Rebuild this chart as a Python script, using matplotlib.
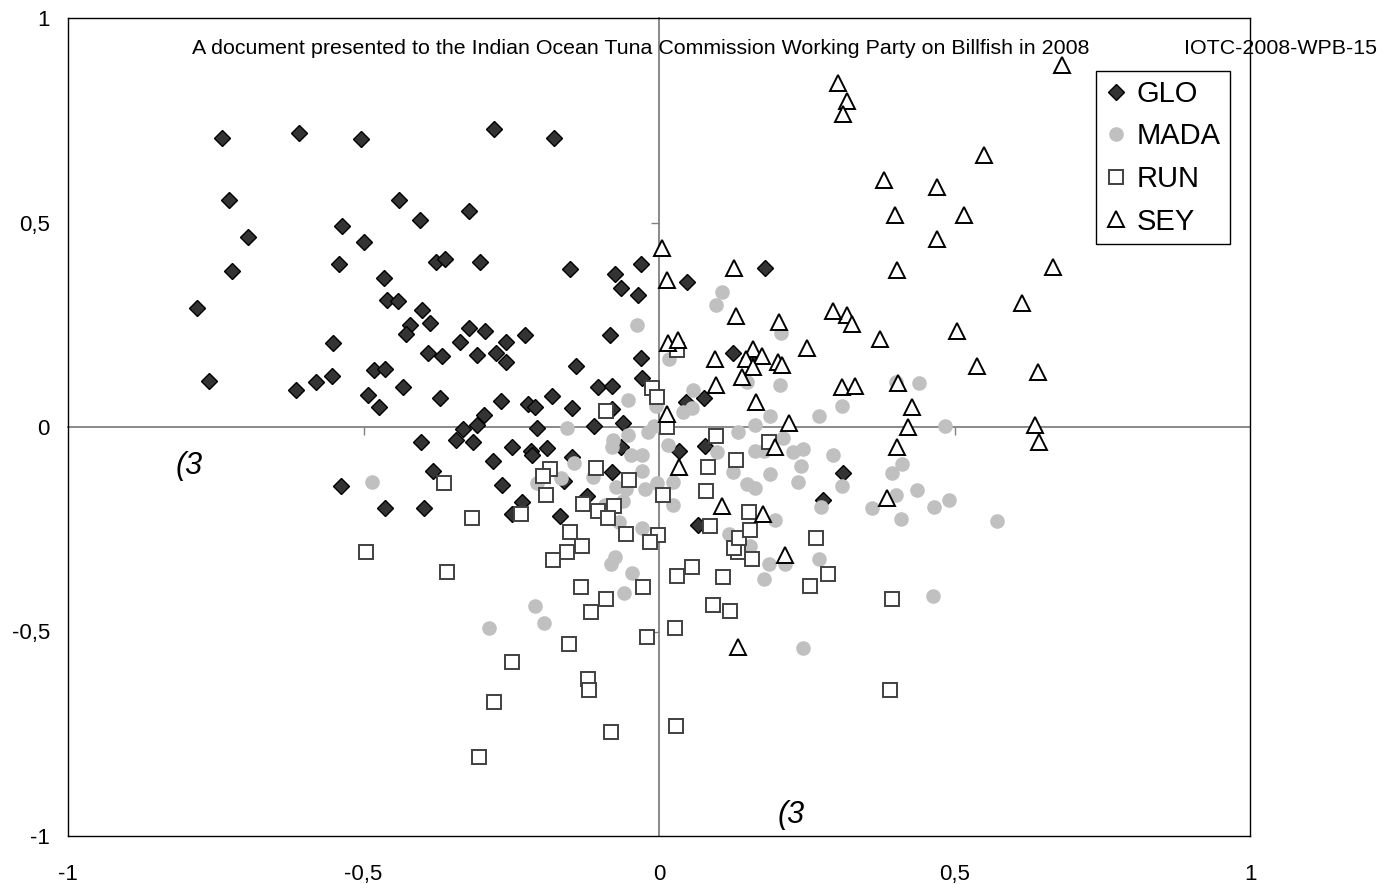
import numpy as np
import matplotlib
matplotlib.use('Agg')
from matplotlib import pyplot as plt

plt.rcParams['font.family'] = ['Liberation Sans', 'DejaVu Sans']

#%% data

glo_x = [-0.740, -0.609, -0.505, -0.728, -0.440, -0.404, -0.536, -0.500, -0.696, -0.541,
         -0.722, -0.466, -0.461, -0.442, -0.782, -0.401, -0.279, -0.178, -0.321, -0.378,
         -0.362, -0.303, -0.150, -0.074, -0.031, -0.064, -0.036, -0.387, -0.761, -0.552,
         -0.580, -0.554, -0.614, -0.482, -0.464, -0.492, -0.474, -0.433, -0.422, -0.428,
         -0.403, -0.538, -0.464, -0.398, -0.321, -0.294, -0.336, -0.259, -0.227, -0.083,
         -0.391, -0.367, -0.308, -0.276, -0.259, -0.140, -0.031, -0.028, -0.104, -0.080,
         -0.370, -0.267, -0.221, -0.209, -0.181, -0.147, -0.296, -0.308, -0.332, -0.207,
         -0.110, -0.061, -0.080, -0.344, -0.315, -0.248, -0.217, -0.215, -0.189, -0.281,
         -0.148, -0.064, -0.383, -0.080, -0.266, -0.161, -0.232, -0.248, -0.168, -0.122,
         0.048, 0.125, 0.153, 0.076, 0.046, 0.034, 0.078, 0.311, 0.066, 0.277, 0.179]
glo_y = [0.707, 0.719, 0.703, 0.554, 0.554, 0.506, 0.491, 0.453, 0.465, 0.398,
         0.381, 0.364, 0.311, 0.307, 0.292, 0.286, 0.729, 0.707, 0.527, 0.403,
         0.411, 0.404, 0.386, 0.375, 0.398, 0.341, 0.322, 0.254, 0.112, 0.206,
         0.109, 0.124, 0.090, 0.139, 0.143, 0.079, 0.049, 0.098, 0.249, 0.228,
         -0.037, -0.144, -0.198, -0.199, 0.241, 0.235, 0.207, 0.207, 0.226, 0.226,
         0.181, 0.173, 0.176, 0.180, 0.158, 0.150, 0.169, 0.120, 0.097, 0.101,
         0.071, 0.064, 0.056, 0.049, 0.075, 0.046, 0.030, 0.005, -0.006, -0.002,
         0.003, 0.009, 0.044, -0.033, -0.037, -0.048, -0.058, -0.068, -0.052, -0.082,
         -0.074, -0.050, -0.108, -0.109, -0.142, -0.133, -0.184, -0.213, -0.217, -0.168,
         0.354, 0.181, 0.169, 0.071, 0.062, -0.059, -0.046, -0.112, -0.240, -0.178, 0.389]

mada_x = [-0.485, -0.037, -0.053, -0.156, -0.005, -0.077, -0.080, -0.053, -0.018, -0.008,
          -0.048, -0.028, -0.144, -0.165, -0.207, -0.112, -0.029, -0.004, -0.073, -0.056,
          -0.024, -0.061, -0.091, -0.067, -0.029, 0.106, 0.096, 0.206, 0.017, 0.149,
          0.205, 0.058, 0.055, 0.040, 0.188, 0.162, 0.271, 0.310, 0.134, 0.210,
          0.162, 0.178, 0.227, 0.243, 0.240, 0.294, 0.016, 0.098, 0.126, 0.188,
          0.024, 0.024, 0.196, 0.149, 0.162, 0.236, 0.310, 0.274, 0.271, 0.213,
          0.186, 0.178, 0.119, 0.154, 0.401, 0.440, 0.484, 0.411, 0.395, 0.437,
          0.401, 0.360, 0.466, 0.491, 0.409, 0.572, -0.210, -0.195, -0.288, -0.074,
          -0.081, -0.045, -0.060, 0.243, 0.463]
mada_y = [-0.134, 0.249, 0.066, -0.002, 0.051, -0.033, -0.050, -0.020, -0.013, 0.002,
          -0.068, -0.068, -0.088, -0.125, -0.137, -0.123, -0.107, -0.138, -0.147, -0.152,
          -0.152, -0.180, -0.190, -0.232, -0.248, 0.331, 0.298, 0.230, 0.166, 0.109,
          0.103, 0.091, 0.046, 0.037, 0.028, 0.006, 0.028, 0.051, -0.013, -0.028,
          -0.058, -0.059, -0.060, -0.054, -0.095, -0.068, -0.043, -0.062, -0.111, -0.115,
          -0.135, -0.191, -0.227, -0.139, -0.150, -0.135, -0.144, -0.196, -0.323, -0.335,
          -0.335, -0.372, -0.262, -0.290, 0.111, 0.107, 0.003, -0.091, -0.113, -0.154,
          -0.166, -0.199, -0.196, -0.178, -0.225, -0.229, -0.437, -0.478, -0.492, -0.319,
          -0.335, -0.357, -0.406, -0.541, -0.413]

run_x = [-0.090, -0.012, -0.003, -0.363, -0.184, -0.196, -0.107, -0.050, -0.192, -0.128,
         -0.104, -0.076, -0.086, -0.234, -0.317, -0.151, -0.055, 0.007, -0.001, 0.030,
         0.013, 0.096, 0.186, 0.083, 0.130, 0.080, 0.153, 0.266, 0.286, 0.256,
         0.157, 0.133, 0.127, 0.136, 0.154, 0.086, -0.016, 0.055, 0.030, 0.108,
         -0.027, 0.092, 0.120, 0.027, -0.496, -0.358, -0.130, -0.156, -0.179, -0.132,
         -0.090, -0.115, -0.152, -0.021, -0.249, -0.120, -0.118, -0.280, -0.081, -0.304,
         0.391, 0.028, 0.395]
run_y = [0.039, 0.095, 0.074, -0.136, -0.103, -0.121, -0.100, -0.129, -0.166, -0.188,
         -0.205, -0.192, -0.222, -0.213, -0.222, -0.257, -0.262, -0.166, -0.264, 0.188,
         0.001, -0.021, -0.036, -0.099, -0.081, -0.156, -0.207, -0.272, -0.359, -0.388,
         -0.323, -0.305, -0.297, -0.271, -0.252, -0.241, -0.282, -0.343, -0.364, -0.367,
         -0.390, -0.435, -0.451, -0.492, -0.305, -0.354, -0.290, -0.305, -0.324, -0.392,
         -0.421, -0.452, -0.531, -0.514, -0.575, -0.616, -0.642, -0.672, -0.746, -0.808,
         -0.642, -0.732, -0.421]

sey_x = [0.682, 0.303, 0.318, 0.312, 0.550, 0.381, 0.470, 0.399, 0.516, 0.470,
         0.402, 0.666, 0.614, 0.318, 0.327, 0.374, 0.504, 0.538, 0.641, 0.310,
         0.332, 0.405, 0.428, 0.421, 0.636, 0.643, 0.402, 0.386, 0.014, 0.130,
         0.203, 0.295, 0.015, 0.032, 0.094, 0.159, 0.148, 0.175, 0.159, 0.201,
         0.208, 0.250, 0.140, 0.096, 0.014, 0.164, 0.220, 0.197, 0.034, 0.107,
         0.176, 0.213, 0.133, 0.005, 0.127]
sey_y = [0.885, 0.841, 0.798, 0.765, 0.665, 0.605, 0.586, 0.519, 0.519, 0.460,
         0.385, 0.392, 0.302, 0.275, 0.252, 0.215, 0.235, 0.148, 0.134, 0.099,
         0.100, 0.108, 0.048, -0.001, 0.005, -0.037, -0.050, -0.174, 0.359, 0.272,
         0.257, 0.283, 0.205, 0.213, 0.166, 0.191, 0.166, 0.173, 0.146, 0.160,
         0.152, 0.192, 0.122, 0.103, 0.032, 0.060, 0.009, -0.048, -0.097, -0.192,
         -0.213, -0.313, -0.537, 0.438, 0.389]

ticks = [-1, -0.5, 0, 0.5, 1]
tick_labels = ['-1', '-0,5', '0', '0,5', '1']

#%% figure

fig = plt.figure(figsize=(13.98, 8.90), dpi=100)
rect = [68/1398, 1 - 836/890, 1182/1398, 818/890]

# axes crossing at zero, drawn underneath the points
ax0 = fig.add_axes(rect)
ax0.set_xlim(-1, 1); ax0.set_ylim(-1, 1)
ax0.patch.set_visible(False)
for s in ['top', 'right']:
    ax0.spines[s].set_visible(False)
for s in ['left', 'bottom']:
    ax0.spines[s].set_position(('data', 0))
    ax0.spines[s].set_color('#808080')
    ax0.spines[s].set_linewidth(1.3)
ax0.set_xticks([-0.5, 0.5]); ax0.set_yticks([-0.5, 0.5])
ax0.tick_params(direction='out', length=6, width=1, color='#808080',
                labelbottom=False, labelleft=False)

ax = fig.add_axes(rect)
ax.patch.set_visible(False)
ax.plot(glo_x, glo_y, linestyle='none', marker='D', markersize=8,
        markerfacecolor='#333333', markeredgecolor='black', markeredgewidth=1,
        label='GLO')
ax.plot(mada_x, mada_y, linestyle='none', marker='o', markersize=10.5,
        markerfacecolor='#c0c0c0', markeredgecolor='#c0c0c0', markeredgewidth=0,
        label='MADA')
ax.plot(run_x, run_y, linestyle='none', marker='s', markersize=10,
        markerfacecolor='white', markeredgecolor='#404040', markeredgewidth=1.4,
        label='RUN')
ax.plot(sey_x, sey_y, linestyle='none', marker='^', markersize=11.5,
        markerfacecolor='white', markeredgecolor='black', markeredgewidth=1.4,
        label='SEY')

ax.set_xlim(-1, 1); ax.set_ylim(-1, 1)
ax.set_xticks(ticks); ax.set_xticklabels(tick_labels)
ax.set_yticks(ticks); ax.set_yticklabels(tick_labels)
ax.tick_params(length=0, labelsize=16)
ax.tick_params(axis='x', pad=20)
ax.tick_params(axis='y', pad=13)
for s in ax.spines.values():
    s.set_linewidth(1); s.set_color('black')

leg = ax.legend(loc='upper left', bbox_to_anchor=(1096/1398, 1 - 71/890),
                bbox_transform=fig.transFigure, fontsize=21, frameon=True,
                fancybox=False, edgecolor='black', framealpha=1,
                handlelength=0.8, handletextpad=0.3, labelspacing=0.5,
                borderpad=0.3, borderaxespad=0)
leg.get_frame().set_linewidth(1)

fig.text(192/1398, 1 - 54/890,
         'A document presented to the Indian Ocean Tuna Commission Working Party on Billfish in 2008',
         fontsize=15.4, va='baseline', ha='left')
fig.text(1377/1398, 1 - 54/890, 'IOTC-2008-WPB-15', fontsize=15.4,
         va='baseline', ha='right')

fig.text(176/1398, 1 - 474/890, '(3', fontsize=22, style='italic', va='baseline')
fig.text(778/1398, 1 - 823/890, '(3', fontsize=22, style='italic', va='baseline')

plt.savefig('out.png', dpi=100)
